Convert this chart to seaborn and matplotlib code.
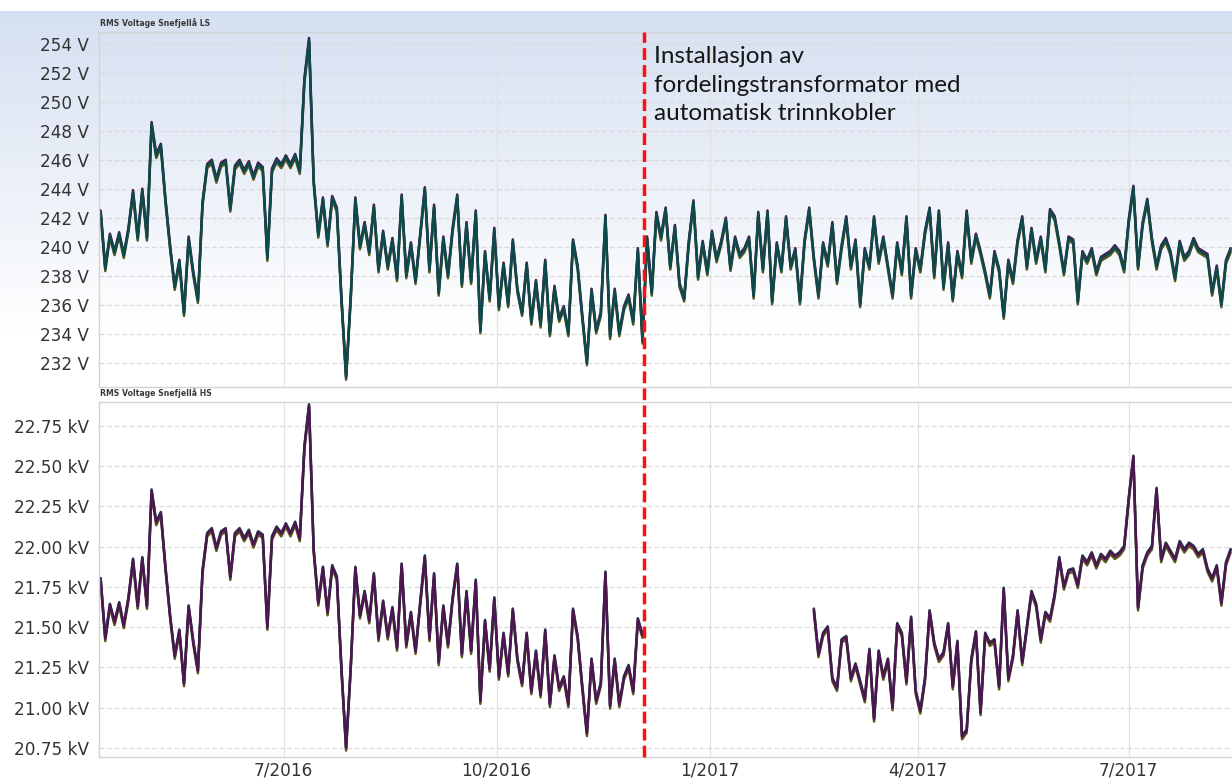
import numpy as np
import pandas as pd
import matplotlib
matplotlib.use("Agg")
import matplotlib.pyplot as plt
import matplotlib.dates as mdates
from matplotlib.ticker import FixedLocator, FixedFormatter, FuncFormatter
import seaborn as sns

# ---------------------------------------------------------------------------
# Data: RMS voltage, one reading every second day from 13 April 2016
# ---------------------------------------------------------------------------
series_start = "2016-04-13"
sample_step = "2D"

# Low-voltage side (V)
ls_volt = [
    242.4, 238.5, 240.8, 239.6, 240.9, 239.4, 241.2, 243.8, 240.6, 243.9,
    240.6, 248.5, 246.3, 247.0, 243.2, 240.0, 237.2, 239.0, 235.4, 240.6,
    238.2, 236.3, 243.0, 245.6, 245.9, 244.6, 245.7, 245.9, 242.6, 245.5,
    245.9, 245.2, 245.8, 244.8, 245.7, 245.4, 239.2, 245.3, 246.0, 245.6,
    246.2, 245.6, 246.3, 245.2, 251.5, 254.3, 244.5, 240.8, 243.3, 240.2,
    243.4, 242.6, 236.4, 231.0, 236.5, 243.3, 240.0, 241.6, 239.6, 242.8,
    238.4, 241.0, 238.6, 240.5, 237.8, 243.5, 238.0, 240.2, 237.6, 240.8,
    244.0, 238.4, 242.8, 236.8, 240.6, 238.0, 241.2, 243.5, 237.4, 241.6,
    237.6, 242.4, 234.2, 239.6, 236.4, 241.2, 235.8, 238.8, 236.0, 240.4,
    237.0, 235.4, 238.8, 234.8, 237.6, 234.6, 239.0, 234.0, 237.2, 235.0,
    235.8, 234.0, 240.4, 238.6, 235.2, 232.0, 237.0, 234.2, 235.4, 242.1,
    233.8, 237.0, 234.0, 235.8, 236.6, 234.8, 239.8, 233.5, 240.6, 236.8,
    242.3, 240.6, 242.6, 238.6, 241.4, 237.4, 236.4, 240.3, 243.1, 237.9,
    240.3, 238.2, 241.0, 239.1, 240.3, 241.9, 238.5, 240.6, 239.4, 239.8,
    240.6, 236.6, 242.3, 238.4, 242.4, 236.2, 240.2, 238.4, 242.0, 238.6,
    239.8, 236.2, 240.4, 242.6, 239.2, 236.6, 240.2, 238.8, 241.6, 237.6,
    240.0, 242.0, 238.6, 240.4, 236.0, 239.8, 238.6, 242.0, 239.0, 240.6,
    238.6, 236.6, 240.2, 238.2, 242.0, 236.6, 239.8, 238.4, 241.0, 242.6,
    238.0, 242.4, 237.2, 240.2, 236.4, 239.6, 238.0, 242.4, 239.0, 240.8,
    239.6, 238.2, 236.6, 239.6, 238.4, 235.2, 239.0, 237.6, 240.4, 242.0,
    238.6, 241.2, 239.0, 240.6, 238.4, 242.5, 242.0, 240.2, 238.2, 240.6,
    240.4, 236.2, 239.6, 239.0, 239.8, 238.2, 239.2, 239.4, 239.6, 240.0,
    239.6, 238.4, 241.8, 244.1, 238.6, 241.6, 243.2, 240.5, 238.6, 240.0,
    240.5, 239.6, 237.8, 240.3, 239.2, 239.6, 240.5, 239.8, 239.6, 239.4,
    236.8, 238.6, 236.0, 239.0, 239.8,
]

# High-voltage side (kV), logged until the transformer swap ...
hs_kv_before = [
    21.80, 21.43, 21.64, 21.53, 21.65, 21.51, 21.68, 21.92, 21.63, 21.93,
    21.63, 22.35, 22.15, 22.21, 21.87, 21.57, 21.32, 21.48, 21.15, 21.63,
    21.41, 21.23, 21.85, 22.08, 22.11, 21.99, 22.09, 22.11, 21.81, 22.08,
    22.11, 22.05, 22.10, 22.01, 22.09, 22.07, 21.50, 22.06, 22.12, 22.08,
    22.14, 22.08, 22.15, 22.05, 22.62, 22.88, 21.98, 21.65, 21.87, 21.59,
    21.88, 21.81, 21.24, 20.75, 21.25, 21.87, 21.57, 21.72, 21.54, 21.83,
    21.43, 21.66, 21.44, 21.62, 21.37, 21.89, 21.39, 21.59, 21.35, 21.65,
    21.94, 21.43, 21.83, 21.28, 21.63, 21.39, 21.68, 21.89, 21.33, 21.72,
    21.35, 21.79, 21.04, 21.54, 21.24, 21.68, 21.19, 21.46, 21.21, 21.61,
    21.30, 21.15, 21.46, 21.10, 21.35, 21.08, 21.48, 21.02, 21.32, 21.12,
    21.19, 21.02, 21.61, 21.44, 21.13, 20.84, 21.30, 21.04, 21.15, 21.84,
    21.01, 21.30, 21.02, 21.19, 21.26, 21.10, 21.55, 21.45,
]

# ... and again once logging resumed
hs_after_start = "2017-02-15"
hs_kv_after = [
    21.61, 21.33, 21.46, 21.50, 21.18, 21.12,
    21.42, 21.44, 21.18, 21.27, 21.16, 21.05, 21.36, 20.93, 21.35, 21.19,
    21.30, 21.00, 21.52, 21.46, 21.16, 21.56, 21.10, 20.98, 21.18, 21.60,
    21.40, 21.30, 21.34, 21.52, 21.13, 21.41, 20.82, 20.86, 21.30, 21.47,
    20.97, 21.46, 21.40, 21.42, 21.13, 21.74, 21.18, 21.32, 21.60, 21.28,
    21.50, 21.72, 21.64, 21.42, 21.59, 21.55, 21.70, 21.93, 21.75, 21.85,
    21.86, 21.76, 21.94, 21.90, 21.96, 21.88, 21.95, 21.92, 21.97, 21.94,
    21.96, 22.00, 22.30, 22.56, 21.62, 21.88, 21.96, 22.00, 22.36, 21.92,
    22.02, 21.97, 21.92, 22.03, 21.98, 22.02, 22.00, 21.95, 21.98, 21.86,
    21.80, 21.88, 21.65, 21.90, 21.98,
]

# The three phases sit almost on top of each other; these are their small
# deviations from the readings above.
phases = ["L1", "L2", "L3"]
phase_colors = {"L1": "#5d5a1b", "L2": "#4d1650", "L3": "#0c4a4c"}
ls_phase_offset = [-0.16, 0.12, 0.0]
hs_phase_offset = [-0.016, 0.0, 0.006]
ls_draw_order = ["L1", "L2", "L3"]
hs_draw_order = ["L1", "L3", "L2"]

install_date = "2016-12-03 14:00"
install_text = "Installasjon av\nfordelingstransformator med\nautomatisk trinnkobler"

ls_title = "RMS Voltage Snefjellå LS"
hs_title = "RMS Voltage Snefjellå HS"
ls_ticks = [232, 234, 236, 238, 240, 242, 244, 246, 248, 250, 252, 254]
hs_ticks = [20.75, 21.00, 21.25, 21.50, 21.75, 22.00, 22.25, 22.50, 22.75]
x_ticks = ["2016-07-01", "2016-10-01", "2017-01-01", "2017-04-01", "2017-07-01"]
x_tick_labels = ["7/2016", "10/2016", "1/2017", "4/2017", "7/2017"]
x_range = ["2016-04-12 07:00", "2017-08-14 14:00"]
ls_range = (230.34, 254.83)
hs_range = (20.694, 22.899)


def long_frame(segments, offsets):
    frames = []
    for seg_id, (start, values) in enumerate(segments):
        times = pd.date_range(start, periods=len(values), freq=sample_step)
        for ph, off in zip(phases, offsets):
            frames.append(pd.DataFrame({
                "time": times,
                "value": np.asarray(values, dtype=float) + off,
                "phase": ph,
                "segment": seg_id,
            }))
    return pd.concat(frames, ignore_index=True)


ls_df = long_frame([(series_start, ls_volt)], ls_phase_offset)
hs_df = long_frame([(series_start, hs_kv_before), (hs_after_start, hs_kv_after)],
                   hs_phase_offset)

# ---------------------------------------------------------------------------
# Figure
# ---------------------------------------------------------------------------
sns.set_style("white")
plt.rcParams["font.family"] = ["DejaVu Sans"]

W, H = 1232, 782
fig = plt.figure(figsize=(W / 100, H / 100), dpi=100)

# soft blue header wash behind everything
bg = fig.add_axes([0, 0, 1, 1], zorder=-10)
rows = np.arange(H)
t = np.clip((rows - 11) / 320.0, 0, 1)
top_col = np.array([0.835, 0.878, 0.945])
grad = top_col[None, :] + (1 - top_col[None, :]) * t[:, None]
grad[rows < 11] = 1.0
bg.imshow(grad[:, None, :], aspect="auto", extent=[0, 1, 0, 1])
bg.set_axis_off()

left_px, right_px = 99, 1232
top_box = (32, 387)
bot_box = (402, 757)


def box(y0, y1):
    return [left_px / W, 1 - y1 / H, (right_px - left_px) / W, (y1 - y0) / H]


ax1 = fig.add_axes(box(*top_box))
ax2 = fig.add_axes(box(*bot_box))
ax1.set_zorder(3)

sns.lineplot(data=ls_df, x="time", y="value", hue="phase", hue_order=ls_draw_order,
             units="segment", estimator=None, palette=phase_colors,
             linewidth=1.8, legend=False, ax=ax1)
sns.lineplot(data=hs_df, x="time", y="value", hue="phase", hue_order=hs_draw_order,
             units="segment", estimator=None, palette=phase_colors,
             linewidth=1.8, legend=False, ax=ax2)

xlim = [pd.Timestamp(v) for v in x_range]
tick_pos = [mdates.date2num(pd.Timestamp(v)) for v in x_ticks]

for ax, ylim, yt, fmt in [
    (ax1, ls_range, ls_ticks, lambda v, p: f"{v:.0f} V"),
    (ax2, hs_range, hs_ticks, lambda v, p: f"{v:.2f} kV"),
]:
    ax.patch.set_alpha(0)
    ax.set_xlim(*xlim)
    ax.set_ylim(*ylim)
    ax.yaxis.set_major_locator(FixedLocator(yt))
    ax.yaxis.set_major_formatter(FuncFormatter(fmt))
    ax.xaxis.set_major_locator(FixedLocator(tick_pos))
    ax.xaxis.set_major_formatter(FixedFormatter(x_tick_labels))
    ax.set_xlabel("")
    ax.set_ylabel("")
    ax.yaxis.grid(True, color="#dadada", linestyle=(0, (4, 2)), linewidth=0.9)
    ax.xaxis.grid(True, color="#e2e2e2", linestyle="-", linewidth=0.9)
    ax.set_axisbelow(True)
    ax.tick_params(axis="y", length=0, labelsize=12.2, labelcolor="#333333", pad=7)
    ax.tick_params(axis="x", length=0, labelsize=12.2, labelcolor="#333333", pad=3)
    for side in ["left", "bottom", "top"]:
        ax.spines[side].set_color("#d4d4d4")
        ax.spines[side].set_linewidth(1.0)
    ax.spines["right"].set_visible(False)

ax1.tick_params(axis="x", labelbottom=False)

for ax, title in [(ax1, ls_title), (ax2, hs_title)]:
    ax.annotate(title, xy=(0, 1), xycoords="axes fraction", xytext=(1, 3),
                textcoords="offset points", ha="left", va="bottom",
                fontsize=5.6, fontweight="bold", color="#3a3a3a")

# installation marker, running through both panels
install_num = mdates.date2num(pd.Timestamp(install_date))
reach = (top_box[1] - bot_box[1]) / (top_box[1] - top_box[0])
ax1.axvline(install_num, ymin=reach, ymax=1, clip_on=False, color="#ff1010",
            linewidth=2.5, dashes=(3.4, 1.5), zorder=10)
ax1.annotate(install_text, xy=(install_num, 1), xycoords=("data", "axes fraction"),
             xytext=(7.5, -10), textcoords="offset points", ha="left", va="top",
             fontsize=17.5, family="Lato", color="#161616", linespacing=1.45,
             zorder=11)

fig.savefig("out.png", dpi=100)
